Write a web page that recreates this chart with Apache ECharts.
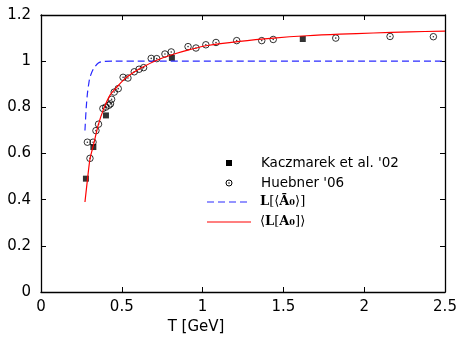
<!DOCTYPE html>
<html>
<head>
<meta charset="utf-8">
<style>
  html, body { margin: 0; padding: 0; background: #fff; }
  #chart { width: 462px; height: 341px; }
</style>
<script src="https://cdn.jsdelivr.net/npm/echarts@6/dist/echarts.min.js"></script>
</head>
<body>
<div id="chart"></div>
<script>
// Lattice data: Polyakov loop vs temperature
const kaczmarek02 = [
  [0.278, 0.491], [0.324, 0.628], [0.402, 0.765], [0.81, 1.014], [1.62, 1.096]
];

const huebner06 = [
  [0.287, 0.649], [0.322, 0.649], [0.303, 0.579], [0.340, 0.699], [0.356, 0.727],
  [0.383, 0.795], [0.401, 0.801], [0.420, 0.809], [0.430, 0.815], [0.437, 0.835],
  [0.453, 0.866], [0.478, 0.881], [0.508, 0.930], [0.538, 0.927], [0.577, 0.954],
  [0.607, 0.965], [0.635, 0.972], [0.682, 1.012], [0.716, 1.011], [0.767, 1.031],
  [0.806, 1.040], [0.910, 1.063], [0.959, 1.057], [1.020, 1.071], [1.083, 1.081],
  [1.211, 1.089], [1.366, 1.089], [1.437, 1.094], [1.824, 1.100], [2.160, 1.107],
  [2.428, 1.106]
];

// Model curves
const loopOfMeanA0 = [
  [0.272, 0.70], [0.280, 0.80], [0.287, 0.858], [0.295, 0.90], [0.303, 0.93],
  [0.324, 0.966], [0.355, 0.992], [0.386, 0.999], [0.45, 1.0], [2.5, 1.0]
];

const meanLoopA0 = [
  [0.272, 0.39], [0.288, 0.49], [0.303, 0.575], [0.324, 0.635], [0.355, 0.725],
  [0.386, 0.79], [0.427, 0.853], [0.47, 0.888], [0.51, 0.918], [0.56, 0.945],
  [0.613, 0.968], [0.716, 1.004], [0.82, 1.03], [0.92, 1.05], [1.03, 1.068],
  [1.23, 1.086], [1.44, 1.10], [1.644, 1.110], [1.85, 1.117], [2.056, 1.122],
  [2.28, 1.127], [2.5, 1.13]
];

const xRange = { min: 0, max: 2.5, step: 0.5 };
const yRange = { min: 0, max: 1.2, step: 0.2 };
const xTitle = 'T [GeV]';
const legendNames = ["Kaczmarek et al. '02", "Huebner '06"];

const SANS = 'DejaVu Sans';
const SERIF = 'DejaVu Serif';
const BLUE = '#2a2aff';
const RED = '#ff0000';

const chart = echarts.init(document.getElementById('chart'));

function frameAxis(isX, pos, showLabels) {
  const r = isX ? xRange : yRange;
  return {
    type: 'value',
    position: pos,
    min: r.min, max: r.max, interval: r.step,
    axisLine: { show: true, onZero: false, lineStyle: { color: '#000', width: 1.3 } },
    axisTick: { show: true, inside: true, length: 5, lineStyle: { color: '#000', width: 1 } },
    axisLabel: {
      show: showLabels,
      color: '#000',
      fontFamily: SANS,
      fontSize: 15,
      margin: isX ? 8 : 10
    },
    splitLine: { show: false }
  };
}

const xMain = frameAxis(true, 'bottom', true);
xMain.name = xTitle;
xMain.nameLocation = 'middle';
xMain.nameGap = 21;
// title sits left of the axis centre, roughly under T = 1
xMain.nameTextStyle = { color: '#000', fontFamily: SANS, fontSize: 15, padding: [0, 94, 0, 0] };

const legX0 = 207, legX1 = 251, legSym = 229, legText = 261;
const legRows = [163, 183, 202, 222];

chart.setOption({
  animation: false,
  backgroundColor: '#fff',
  grid: { left: 41, top: 15, right: 17, bottom: 49, containLabel: false },
  xAxis: [xMain, frameAxis(true, 'top', false)],
  yAxis: [frameAxis(false, 'left', true), frameAxis(false, 'right', false)],
  series: [
    {
      name: legendNames[0],
      type: 'scatter',
      data: kaczmarek02,
      symbol: 'rect',
      symbolSize: 6,
      itemStyle: { color: '#000' },
      z: 3
    },
    {
      name: legendNames[1],
      type: 'scatter',
      data: huebner06,
      symbol: 'circle',
      symbolSize: 6.5,
      itemStyle: { color: 'rgba(0,0,0,0)', borderColor: '#000', borderWidth: 1 },
      z: 3
    },
    {
      name: legendNames[1] + ' centre',
      type: 'scatter',
      data: huebner06,
      symbol: 'circle',
      symbolSize: 1.6,
      itemStyle: { color: '#000' },
      z: 3
    },
    {
      name: 'L[<A0>]',
      type: 'line',
      data: loopOfMeanA0,
      smooth: 0.3,
      showSymbol: false,
      lineStyle: { color: BLUE, width: 1.2, type: [7, 4] },
      z: 4
    },
    {
      name: '<L[A0]>',
      type: 'line',
      data: meanLoopA0,
      smooth: 0.3,
      showSymbol: false,
      lineStyle: { color: RED, width: 1.2 },
      z: 5
    }
  ],
  graphic: [
    // legend keys
    { type: 'rect', shape: { x: legSym - 3, y: legRows[0] - 3, width: 6, height: 6 },
      style: { fill: '#000' } },
    { type: 'circle', shape: { cx: legSym, cy: legRows[1], r: 3 },
      style: { fill: 'none', stroke: '#000', lineWidth: 1 } },
    { type: 'circle', shape: { cx: legSym, cy: legRows[1], r: 0.8 },
      style: { fill: '#000' } },
    { type: 'line', shape: { x1: legX0, y1: legRows[2], x2: legX1, y2: legRows[2] },
      style: { stroke: BLUE, lineWidth: 1.2, lineDash: [7, 4] } },
    { type: 'line', shape: { x1: legX0, y1: legRows[3], x2: legX1, y2: legRows[3] },
      style: { stroke: RED, lineWidth: 1.2 } },
    // legend texts
    { type: 'text', x: legText, y: legRows[0],
      style: { text: legendNames[0], fill: '#000', font: '13.5px "DejaVu Sans"', textVerticalAlign: 'middle' } },
    { type: 'text', x: legText, y: legRows[1],
      style: { text: legendNames[1], fill: '#000', font: '13.5px "DejaVu Sans"', textVerticalAlign: 'middle' } },
    { type: 'text', x: legText - 1, y: legRows[2],
      style: {
        text: '{b|L}{n|[⟨}{b|Ā₀}{n|⟩]}',
        textVerticalAlign: 'middle',
        rich: {
          b: { fontFamily: SERIF, fontWeight: 'bold', fontSize: 13, fill: '#000' },
          n: { fontFamily: SERIF, fontSize: 13, fill: '#000' }
        }
      } },
    { type: 'text', x: legText - 1, y: legRows[3],
      style: {
        text: '{n|⟨}{b|L}{n|[}{b|A₀}{n|]⟩}',
        textVerticalAlign: 'middle',
        rich: {
          b: { fontFamily: SERIF, fontWeight: 'bold', fontSize: 13, fill: '#000' },
          n: { fontFamily: SERIF, fontSize: 13, fill: '#000' }
        }
      } }
  ]
});
</script>
</body>
</html>
